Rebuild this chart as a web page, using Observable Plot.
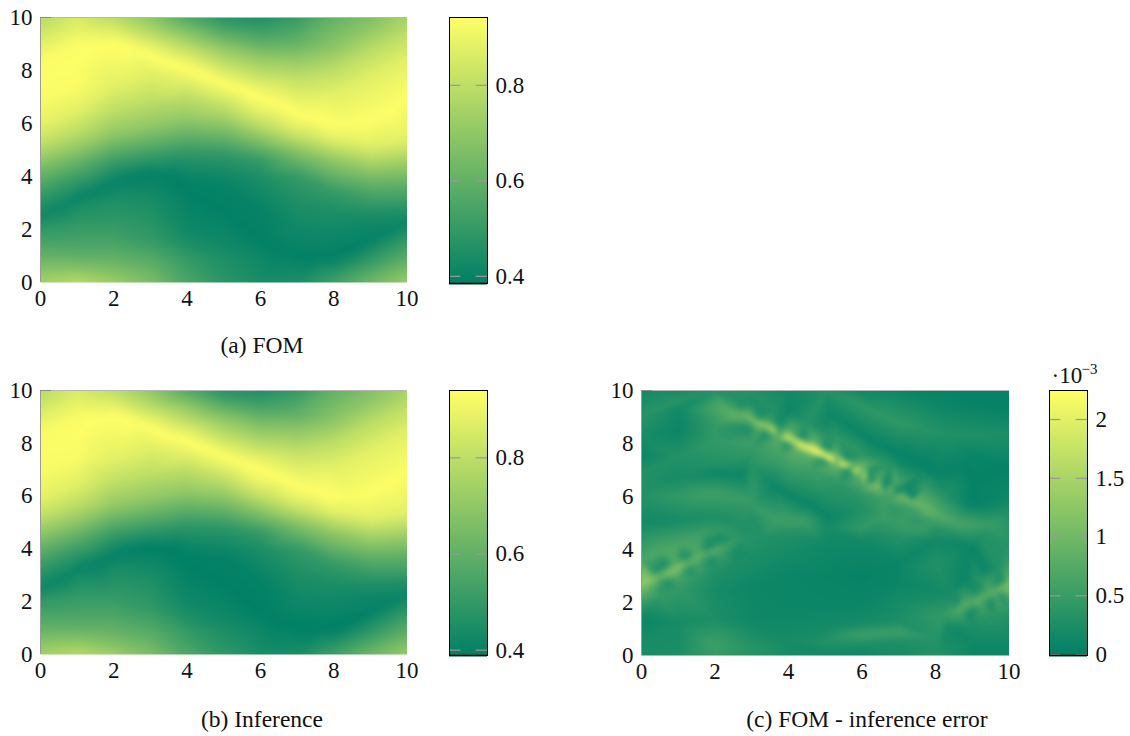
<!DOCTYPE html>
<html>
<head>
<meta charset="utf-8">
<script src="https://cdn.jsdelivr.net/npm/d3@7"></script>
<script src="https://cdn.jsdelivr.net/npm/@observablehq/plot@0.6"></script>
<style>
  html, body { margin: 0; padding: 0; background: #fff; }
  body { position: relative; width: 1130px; height: 736px; overflow: hidden; font-family: "Liberation Serif", serif; }
  svg { position: absolute; background: transparent; }
  .cap { position: absolute; transform: translateX(-50%); font-size: 23.5px; line-height: 26px; white-space: nowrap; color: #111; }
</style>
</head>
<body>
<script>
// Panels (a) and (b): stops read up each column x = 0..10
const columnX = [0,1,2,3,4,5,6,7,8,9,10];
const fomY = [
 [0,.4,1,1.9,2.3,3.3,4,4.6,5.2,5.9,6.8,8.4,9,9.8,10],
 [0,.15,.5,.95,1.4,2.1,2.8,3.9,4.5,5.05,5.7,6.5,7.4,9,9.5,10],
 [0,.3,.9,1.4,2.1,3.1,4.5,5.05,5.6,6.5,7.4,9.45,10],
 [0,.6,1.1,1.6,2.8,3.5,4.75,5.3,5.9,6.85,7.9,8.95,9.35,10],
 [0,.9,1.45,2,3.9,4.5,4.95,5.55,6.15,7,7.6,8.45,8.85,9.35,9.8,10],
 [0,.9,1.5,3.7,4.4,4.9,5.45,6,6.6,7.1,7.85,8.3,8.85,9.3,9.8,10],
 [0,.9,2.8,4,4.6,5.05,5.5,5.95,6.4,7.45,7.9,8.5,9,9.5,10],
 [0,.5,2,3,4,4.55,5.05,5.45,5.85,7,7.75,8.45,9.1,10],
 [0,.2,.7,1.9,2.7,3.4,4,4.6,5.05,5.4,7.1,8,8.8,10],
 [0,.2,.8,1.2,2.2,2.6,3,3.7,4.25,4.75,5.2,7.7,8.7,9.6,10],
 [0,.15,.8,1.55,1.95,2.65,3,3.75,4.35,4.9,5.4,8.4,9.4,10]
];
const fomV = [
 [.74,.69,.6,.5,.45,.5,.6,.7,.8,.88,.925,.93,.88,.8,.78],
 [.78,.76,.68,.6,.55,.5,.45,.5,.6,.7,.8,.88,.93,.93,.89,.86],
 [.73,.68,.6,.55,.5,.45,.5,.6,.7,.8,.88,.88,.79],
 [.66,.6,.55,.5,.45,.42,.5,.6,.7,.8,.88,.88,.8,.69],
 [.55,.5,.45,.42,.4,.45,.5,.6,.7,.8,.88,.88,.8,.7,.6,.55],
 [.48,.45,.42,.4,.45,.5,.6,.7,.8,.88,.88,.8,.7,.6,.5,.47],
 [.44,.42,.4,.45,.5,.6,.7,.8,.88,.88,.8,.7,.6,.52,.45],
 [.45,.42,.42,.45,.5,.6,.7,.8,.88,.88,.8,.7,.6,.5],
 [.53,.5,.42,.42,.45,.5,.6,.7,.8,.88,.88,.8,.7,.6],
 [.63,.6,.5,.45,.42,.45,.5,.6,.7,.8,.88,.88,.8,.7,.66],
 [.72,.7,.6,.5,.45,.45,.5,.6,.7,.8,.88,.88,.8,.75]
];
const infY = [
 [0,.4,1,1.95,2.3,3.3,4,4.6,5.2,5.9,6.8,8.4,9,9.8,10],
 [0,.15,.55,1,1.5,2.2,2.85,3.9,4.5,5.05,5.7,6.5,7.4,9,9.5,10],
 [0,.3,.95,1.5,2.2,3.15,4.5,5.05,5.6,6.5,7.4,9.45,10],
 [0,.6,1.15,1.7,2.9,3.5,4.75,5.3,5.9,6.85,7.9,8.95,9.35,10],
 [0,.9,1.5,2.1,3.9,4.5,4.95,5.55,6.15,7,7.6,8.45,8.85,9.4,9.85,10],
 [0,.9,1.5,3.7,4.4,4.9,5.45,6,6.6,7.1,7.85,8.3,8.9,9.35,9.8,10],
 [0,.9,2.8,4,4.6,5.05,5.5,5.95,6.4,7.45,7.9,8.5,9.05,9.5,10],
 [0,.5,2,3,4,4.55,5.05,5.45,5.85,7,7.75,8.45,9.1,10],
 [0,.2,.7,1.9,2.7,3.4,4,4.6,5.05,5.4,7.1,8,8.8,10],
 [0,.2,.8,1.2,2.2,2.6,3,3.7,4.25,4.75,5.2,7.7,8.7,9.6,10],
 [0,.15,.8,1.55,1.95,2.65,3,3.75,4.35,4.9,5.4,8.4,9.4,10]
];
const infV = [
 [.74,.69,.6,.5,.45,.5,.6,.7,.8,.88,.92,.925,.88,.8,.78],
 [.78,.76,.68,.6,.55,.5,.45,.5,.6,.7,.8,.88,.925,.925,.89,.86],
 [.74,.68,.6,.55,.5,.45,.5,.6,.7,.8,.88,.88,.8],
 [.66,.6,.55,.5,.45,.42,.5,.6,.7,.8,.88,.88,.8,.7],
 [.56,.5,.45,.42,.4,.45,.5,.6,.7,.8,.88,.88,.8,.7,.6,.56],
 [.49,.45,.42,.4,.45,.5,.6,.7,.8,.88,.88,.8,.7,.6,.5,.47],
 [.44,.42,.4,.45,.5,.6,.7,.8,.88,.88,.8,.7,.6,.52,.45],
 [.45,.42,.42,.45,.5,.6,.7,.8,.88,.88,.8,.7,.6,.5],
 [.53,.5,.42,.42,.45,.5,.6,.7,.8,.88,.88,.8,.7,.6],
 [.63,.6,.5,.45,.42,.45,.5,.6,.7,.8,.88,.88,.8,.7,.67],
 [.72,.7,.6,.5,.45,.45,.5,.6,.7,.8,.88,.88,.8,.75]
];

// Crest of the yellow ridge and floor of the two green valleys
const crestX = [0,1,1.5,2,2.5,3,3.5,4,4.5,5,5.5,6,6.5,7,7.5,8,8.5,9,9.5,10];
const crestY = [7.6,8.3,8.9,9.05,8.85,8.57,8.3,8.06,7.8,7.5,7.25,7,6.7,6.4,6.15,5.95,5.95,6.1,6.4,7];
const crestFom = [.935,.94,.942,.942,.942,.942,.942,.942,.942,.942,.942,.942,.942,.942,.942,.94,.935,.94,.94,.935];
const crestInf = [.93,.935,.94,.94,.94,.94,.94,.94,.94,.94,.94,.94,.94,.94,.94,.94,.93,.935,.935,.93];
const valleyX = [0,.5,1,1.5,2,2.5,3,3.5,4,5,6,6.5,7,7.5,8,8.5,9,9.5,10];
const valleyY = [2.5,2.8,3.2,3.45,3.75,4,4.1,4.05,3.4,2.7,1.6,1.2,.95,.9,1,1.25,1.55,1.95,2.35];
const valleyV = [.415,.41,.405,.40,.395,.392,.39,.39,.39,.39,.39,.39,.39,.39,.39,.39,.395,.40,.405];

// Panel (c), FOM - inference error, in units of 1e-3: background stops by column
const errX = [0,1,2,3,4,5,6,7,8,9,10];
const errY = [
 [0,.6,1.37,5,5.6,6.2,6.9,7.5,8.2,9,10],
 [0,1.25,5.1,6,6.7,7.5,8.5,9.25,9.6,10],
 [0,.37,1.37,2.5,5.2,6.1,7.2,8.1,8.7,10],
 [0,.25,1.25,2.5,5.2,6,7.2,7.7,9.5,10],
 [0,.5,1.2,2,3,4,4.6,5.1,6.6,7,9.2,10],
 [0,.5,1,1.4,2,3,4.2,4.8,6,8.3,8.8,10],
 [0,.4,.8,1.2,2,3,4.3,4.8,5.2,5.6,7.6,10],
 [0,.5,.9,1.3,2,2.8,3.5,4.4,4.9,7.3,10],
 [0,.6,3.5,4.3,4.7,6.9,9.6,10],
 [0,.5,4.1,5.7,6.5,7.5,9.5,10],
 [0,.5,1.2,4.3,5.4,6,9.3,10]
];
const errV = [
 [.2,.2,.1,.15,.25,.3,.3,.1,.2,.35,.15],
 [.25,.2,.2,.45,.2,.3,.1,.15,.35,.2],
 [.45,.55,.25,.2,.25,.55,.3,.45,.45,.3],
 [.3,.35,.15,.12,.3,.45,.35,.45,.25,.3],
 [.2,.2,.15,.1,.1,.2,.3,.55,.35,.5,.12,.15],
 [.15,.3,.2,.15,.1,.08,.15,.2,.3,.35,.15,.3],
 [.1,.25,.55,.2,.1,.05,.15,.45,.35,.3,.35,.12],
 [.2,.25,.55,.25,.2,.1,.1,.3,.5,.15,.1],
 [.3,.35,.3,.15,.3,.06,.1,.05],
 [.1,.15,.1,.05,.05,.08,.05,.05],
 [.1,.15,.25,.35,.3,.12,.05,.05]
];
// Long bands of the background
const bandX = [5.8,6.4,7.06,7.7,8.33,9.2,10, 5.16,5.7,6.25,6.9,7.6,8.8,10, 2.08,2.72,3.62,4.53,5.07, 1.8,3,3.67,4.4,6.6,7.6];
const bandY = [9.6,9.15,8.74,8.5,8.36,8.3,8.36, 9.1,8.6,8.1,7.65,7.25,7.1,7.1, 6.92,6.8,6.35,5.72,5.22, 6.1,5.7,5.1,5.1,5.2,4.75];
const bandV = [.4,.42,.42,.35,.3,.28,.25, .12,.1,.08,.06,.05,.05,.05, .1,.1,.1,.1,.1, .55,.45,.55,.55,.5,.5];
// Bright streak, with a row of spots on each side
const streakX = [2.2,2.7,3,3.3,3.6,4,4.3,4.6,4.9,5.15,5.5,5.8,6.1,6.43,6.75,7.06,7.4,7.79,8.1,8.5,9,9.5,10];
const streakY = [9.37,9.06,8.9,8.72,8.5,8.18,8,7.8,7.6,7.43,7.2,6.98,6.75,6.48,6.25,6.04,5.8,5.47,5.25,5.03,4.95,4.95,5];
const streakV = [.75,.9,1.05,1.25,1.5,1.85,2,2.15,2.2,2.25,2.05,1.85,1.5,1.2,1.05,1,.95,.9,.75,.65,.6,.5,.35];
const upperX = [2.7,3.17,3.45,3.76,4.05,4.39,4.7,5.03,5.3,5.57,5.88,6.2,6.48,6.75,7,7.2];
const upperY = [9.35,9.02,8.87,8.68,8.5,8.22,8.08,7.8,7.63,7.42,7.22,6.98,6.82,6.63,6.5,6.35];
const upperV = [.35,.25,.6,.2,.75,.2,.85,.25,.85,.25,.75,.2,.7,.15,.6,.1];
const lowerX = [2.94,3.15,3.4,3.7,3.99,4.2,4.6,4.94,5.3,5.61,5.9,6.16,6.4,6.61,6.8,7,7.2,7.38];
const lowerY = [8.59,8.45,8.36,8.15,7.99,7.76,7.52,7.38,7.12,6.96,6.72,6.62,6.52,6.38,6.42,6.2,6.14,5.97];
const lowerV = [.25,.6,.25,.75,.3,.85,.8,.3,.85,.2,.75,.2,.6,.15,.55,.15,.45,.12];
const branchX = [6.07,6.88,7.7,8.24];
const branchY = [7.17,6.67,6.29,6.1];
const branchV = [.85,.75,.5,.3];
const edgeX = [2.6,3.6,4.5,5.3,6,6.8,7.6,3,3.8,4.6,5.4,6,6.8,7.5,8.3,9.2,6.1,6.7,7.4,8];
const edgeY = [9.6,9.2,8.75,8.25,7.7,7.3,6.85,8,7.5,7,6.5,6.1,5.6,5.1,4.7,4.5,6.45,5.95,5.5,5];
const edgeV = [.3,.3,.35,.4,.4,.3,.2,.55,.6,.55,.4,.45,.4,.4,.35,.3,.8,.6,.55,.5];
// Lower-left chain: crest, spot rows, outer edges
const leftX = [0,.23,.5,.77,1.09,1.3,1.5,1.75,2.04,2.4,2.8,3.3,
  .36,.63,.9,1.18,1.5,1.81,2.17,2.5,
  .05,.4,.68,1,1.27,1.55,1.86,2.2,2.6,
  0,.27,.6,1,1.63,2.1,2.7,
  0,.5,1,1.5,2,2.5,3];
const leftY = [2.75,2.85,3,3.13,3.38,3.5,3.68,3.8,3.98,4.2,4.35,4.45,
  3.2,3.42,3.55,3.76,3.98,4.14,4.39,4.55,
  2.35,2.6,2.76,2.95,3.25,3.35,3.57,3.7,3.9,
  3.6,3.75,3.95,4.2,4.55,4.75,4.9,
  2,2.2,2.5,2.85,3.2,3.45,3.8];
const leftV = [1.3,1.25,.9,1.15,1.1,.8,.9,.7,.75,.5,.35,.3,
  .3,.2,.7,.2,.7,.2,.2,.4,
  .8,.6,.3,.65,.3,.55,.25,.45,.2,
  .65,.7,.7,.65,.55,.45,.3,
  .5,.45,.45,.4,.3,.25,.25];
// Lower-right chain: crest, spot rows, outer edges
const rightX = [8.2,8.45,8.69,9,9.24,9.5,9.83,10,
  8.56,8.8,9.15,9.4,9.78,10,
  8.4,8.78,9.1,9.33,9.7,10,
  8.7,8.97,9.25,9.51,9.7,9.83,10,
  8.4,9,9.6,10];
const rightY = [1.5,1.62,1.81,2,2.19,2.35,2.57,2.65,
  2,2.3,2.44,2.8,2.82,3.1,
  2.35,2.82,3,3.2,3.3,3.55,
  1.4,1.62,1.8,2,2.1,2.19,2.2,
  1,1.1,1.4,1.7];
const rightV = [.45,.6,.8,.75,.85,.8,1,1.15,
  .2,.45,.25,.5,.25,.75,
  .2,.1,.3,.1,.3,.5,
  .45,.15,.55,.2,.6,.25,.7,
  .15,.25,.35,.4];

// Colour bars
const fomBar = {domain: [.385,.942], ticks: [.4,.6,.8]};
const infBar = {domain: [.389,.94], ticks: [.4,.6,.8]};
const errBar = {domain: [-.008,2.247], ticks: [0,.5,1,1.5,2]};
const axisTicks = [0,2,4,6,8,10];
const ramp = ["#008066","#ffff66"];

const points = (xs, ys, vs) => xs.map((x, i) => ({x, y: ys[i], v: vs[i]}));
const fromColumns = (xs, ys, vs) => xs.flatMap((x, i) => ys[i].map((y, j) => ({x, y, v: vs[i][j]})));

const fomData = [...fromColumns(columnX, fomY, fomV), ...points(crestX, crestY, crestFom), ...points(valleyX, valleyY, valleyV)];
const infData = [...fromColumns(columnX, infY, infV), ...points(crestX, crestY, crestInf), ...points(valleyX, valleyY, valleyV)];
const errData = [...fromColumns(errX, errY, errV), ...points(bandX, bandY, bandV), ...points(streakX, streakY, streakV),
  ...points(upperX, upperY, upperV), ...points(lowerX, lowerY, lowerV), ...points(branchX, branchY, branchV),
  ...points(edgeX, edgeY, edgeV), ...points(leftX, leftY, leftV), ...points(rightX, rightY, rightV)];

const style = {fontFamily: '"Liberation Serif", serif', fontSize: "23px", color: "#111", overflow: "visible", background: "transparent"};
const place = (svg, left, top) => { svg.style.left = left + "px"; svg.style.top = top + "px"; document.body.appendChild(svg); };

function heatmap(data, colorDomain, frameLeft, frameTop, frameW, frameH, blur) {
  const ml = 40, mt = 14, mr = 24, mb = 36;
  const svg = Plot.plot({
    width: frameW + ml + mr, height: frameH + mt + mb,
    marginLeft: ml, marginTop: mt, marginRight: mr, marginBottom: mb,
    style,
    x: {domain: [0, 10]}, y: {domain: [0, 10]},
    color: {type: "linear", domain: colorDomain, range: ramp, clamp: true},
    marks: [
      Plot.raster(data, {x: "x", y: "y", fill: "v", x1: 0, x2: 10, y1: 0, y2: 10, interpolate: "barycentric", blur}),
      Plot.ruleX([0], {stroke: "#9a9a9a"}),
      Plot.ruleY([10], {stroke: "#b5b5b5"}),
      Plot.ruleY([10], {x1: 0, x2: .3, stroke: "#8a8a8a"}),
      Plot.axisX({ticks: axisTicks, tickSize: 0, tickPadding: 7, label: null}),
      Plot.axisY({ticks: axisTicks, tickSize: 0, tickPadding: 8, label: null})
    ]
  });
  place(svg, frameLeft - ml, frameTop - mt);
}

function colorbar(bar, colorDomain, frameLeft, frameTop, frameH, extra = []) {
  const mt = 30, mb = 14, ml = 2, mr = 60, w = 38;
  const svg = Plot.plot({
    width: w + ml + mr, height: frameH + mt + mb,
    marginLeft: ml, marginTop: mt, marginRight: mr, marginBottom: mb,
    style,
    x: {domain: [0, 1], axis: null}, y: {domain: bar.domain},
    color: {type: "linear", domain: colorDomain, range: ramp, clamp: true},
    marks: [
      Plot.raster({x1: 0, x2: 1, y1: bar.domain[0], y2: bar.domain[1], fill: (x, y) => y}),
      Plot.ruleY(bar.ticks, {x1: 0, x2: .3, stroke: "#9a9a9a", strokeWidth: 1.2}),
      Plot.ruleY(bar.ticks, {x1: .7, x2: 1, stroke: "#9a9a9a", strokeWidth: 1.2}),
      Plot.ruleY([bar.domain[0]], {stroke: "#00402f", strokeWidth: 2}),
      Plot.frame({stroke: "#000"}),
      Plot.axisY({anchor: "right", ticks: bar.ticks, tickSize: 0, tickPadding: 8, tickFormat: d => String(d), label: null}),
      ...extra
    ]
  });
  place(svg, frameLeft - ml, frameTop - mt);
}

heatmap(fomData, fomBar.domain, 40, 17, 366.5, 265, 3);
colorbar(fomBar, fomBar.domain, 449, 17, 266);
heatmap(infData, infBar.domain, 40, 390, 366.5, 264, 3);
colorbar(infBar, infBar.domain, 449, 390, 265);
heatmap(errData, [0, 2.25], 640.5, 390, 367.5, 265, 2);
colorbar(errBar, [0, 2.25], 1049, 390, 265, [
  Plot.text(["\u00b710"], {x: 0, y: errBar.domain[1], dx: 2, dy: -8, textAnchor: "start", lineAnchor: "bottom", fontSize: 23}),
  Plot.text(["\u22123"], {x: 1, y: errBar.domain[1], dx: -6, dy: -17, textAnchor: "start", lineAnchor: "bottom", fontSize: 15})
]);

for (const [text, cx, top] of [["(a) FOM", 262, 332], ["(b) Inference", 262, 706], ["(c) FOM - inference error", 867, 706]]) {
  const d = document.createElement("div");
  d.className = "cap"; d.textContent = text; d.style.left = cx + "px"; d.style.top = top + "px";
  document.body.appendChild(d);
}
</script>
</body>
</html>
